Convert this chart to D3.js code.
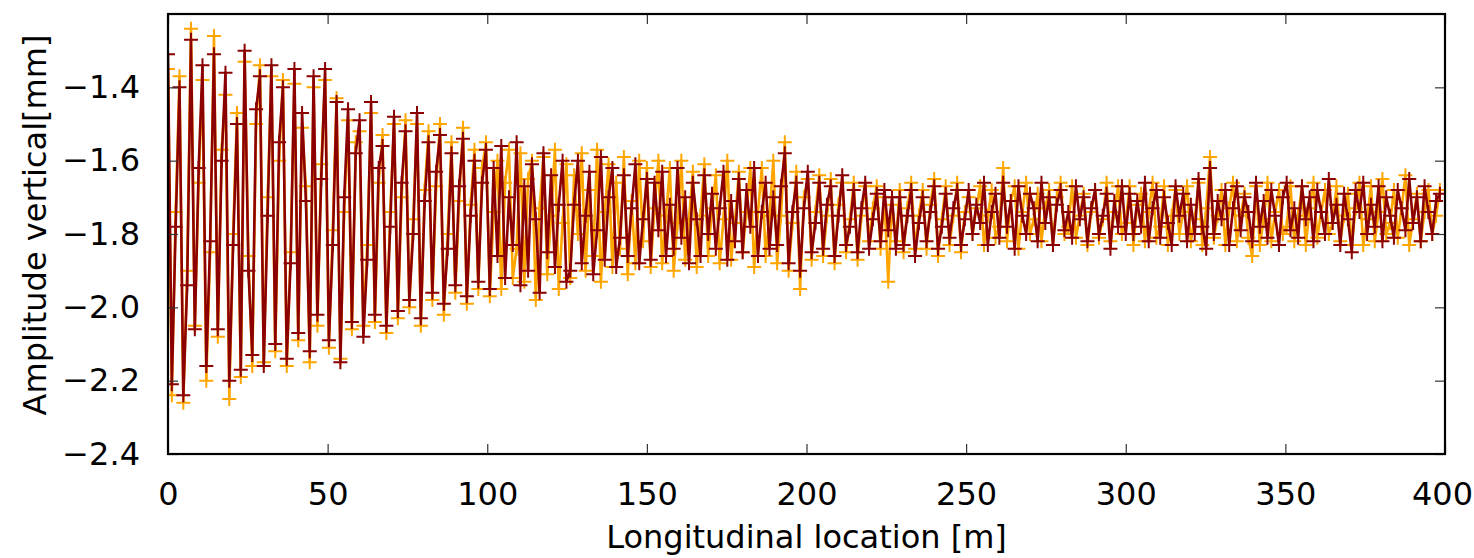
<!DOCTYPE html>
<html lang="en">

<head>
    <meta charset="utf-8">
    <title>Amplitude vertical</title>

    <style type="text/css">
        body {
            margin: 0;
            background-color: white;
        }
        text {
            font-family: "DejaVu Sans", sans-serif;
            fill: black;
        }
    </style>

    <script type="text/javascript" src="https://d3js.org/d3.v7.min.js"></script>

</head>


<body>
    <script type="text/javascript">
        var w = 1474
        var h = 558
        var margin = {left: 168, right: 29, top: 14, bottom: 104};

        // sampling step along the track [m]
        var step = 1.2;

        var xTicks = [0, 50, 100, 150, 200, 250, 300, 350, 400];
        var yTicks = [-2.4, -2.2, -2.0, -1.8, -1.6, -1.4];

        // orange series
        var ampOrange = [
            -1.35, -2.24, -1.74, -1.37, -2.26, -1.90, -1.24, -2.05, -1.66, -1.38, -2.20, -1.85, -1.26, -2.08, -1.57, -1.42, -2.25, -1.80, -1.47, -2.19, -1.33,
            -1.86, -2.16, -1.50, -1.34, -2.15, -1.70, -1.37, -2.12, -1.60, -1.38, -2.16, -1.85, -1.39, -2.09, -1.51, -1.67, -2.15, -1.40, -2.05, -1.61, -1.38,
            -2.11, -1.79, -1.43, -2.14, -1.74, -1.49, -2.06, -1.55, -1.52, -2.05, -1.83, -1.47, -2.04, -1.66, -1.53, -2.07, -1.74, -1.50, -2.03, -1.70, -1.49,
            -2.00, -1.76, -1.50, -2.05, -1.68, -1.52, -1.98, -1.67, -1.50, -2.02, -1.80, -1.55, -1.96, -1.71, -1.51, -1.99, -1.72, -1.57, -1.95, -1.62, -1.55,
            -1.97, -1.74, -1.60, -1.95, -1.66, -1.57, -1.92, -1.84, -1.58, -1.93, -1.65, -1.60, -1.98, -1.73, -1.59, -1.91, -1.75, -1.57, -1.95, -1.77, -1.61,
            -1.92, -1.64, -1.80, -1.58, -1.90, -1.68, -1.86, -1.57, -1.93, -1.74, -1.61, -1.89, -1.66, -1.84, -1.59, -1.91, -1.71, -1.88, -1.60, -1.82, -1.62,
            -1.89, -1.73, -1.60, -1.88, -1.75, -1.62, -1.90, -1.77, -1.60, -1.87, -1.76, -1.63, -1.89, -1.75, -1.61, -1.86, -1.73, -1.64, -1.88, -1.76, -1.60,
            -1.87, -1.77, -1.63, -1.85, -1.74, -1.62, -1.89, -1.74, -1.62, -1.86, -1.75, -1.60, -1.88, -1.75, -1.55, -1.90, -1.77, -1.63, -1.95, -1.70,
            -1.65, -1.87, -1.74, -1.64, -1.86, -1.75, -1.65, -1.88, -1.72, -1.66, -1.85, -1.76, -1.66, -1.87, -1.75, -1.67, -1.82, -1.73, -1.67, -1.84, -1.70,
            -1.93, -1.72, -1.82, -1.68, -1.85, -1.73, -1.66, -1.84, -1.75, -1.68, -1.84, -1.72, -1.65, -1.86, -1.76, -1.67, -1.83, -1.75, -1.66, -1.85, -1.74,
            -1.70, -1.80, -1.73, -1.67, -1.83, -1.75, -1.68, -1.81, -1.78, -1.62, -1.82, -1.71, -1.67, -1.84, -1.74, -1.66, -1.80, -1.76, -1.69, -1.82, -1.73,
            -1.68, -1.83, -1.70, -1.66, -1.80, -1.78, -1.67, -1.81, -1.75, -1.69, -1.83, -1.74, -1.68, -1.81, -1.76, -1.66, -1.82, -1.74, -1.67, -1.80, -1.77,
            -1.67, -1.83, -1.72, -1.69, -1.82, -1.74, -1.66, -1.81, -1.78, -1.67, -1.83, -1.75, -1.68, -1.80, -1.74, -1.67, -1.82, -1.76, -1.66, -1.83, -1.73,
            -1.59, -1.81, -1.75, -1.68, -1.83, -1.73, -1.66, -1.82, -1.75, -1.69, -1.81, -1.86, -1.67, -1.83, -1.76, -1.66, -1.82, -1.74, -1.68, -1.80, -1.78,
            -1.67, -1.82, -1.75, -1.67, -1.83, -1.73, -1.66, -1.81, -1.74, -1.68, -1.80, -1.77, -1.67, -1.82, -1.75, -1.69, -1.83, -1.73, -1.66, -1.83, -1.76,
            -1.67, -1.82, -1.74, -1.65, -1.80, -1.77, -1.68, -1.81, -1.73, -1.64, -1.83, -1.76, -1.69, -1.82, -1.74, -1.68, -1.80, -1.75, -1.68
        ];

        // dark red series
        var ampRed = [
            -1.31, -2.21, -1.78, -1.40, -2.24, -1.94, -1.27, -2.06, -1.62, -1.34, -2.16, -1.82, -1.31, -2.06, -1.60, -1.36, -2.20, -1.83, -1.50, -2.17, -1.30,
            -1.90, -2.13, -1.46, -1.37, -2.16, -1.75, -1.34, -2.10, -1.55, -1.40, -2.14, -1.88, -1.35, -2.07, -1.47, -1.71, -2.12, -1.37, -2.02, -1.65, -1.35,
            -2.09, -1.83, -1.44, -2.15, -1.70, -1.46, -2.04, -1.58, -1.49, -2.08, -1.87, -1.44, -2.02, -1.62, -1.56, -2.05, -1.78, -1.48, -2.01, -1.66, -1.52,
            -1.98, -1.80, -1.47, -2.03, -1.71, -1.55, -1.96, -1.63, -1.53, -1.99, -1.84, -1.58, -1.94, -1.67, -1.54, -1.97, -1.75, -1.60, -1.93, -1.66, -1.57,
            -1.95, -1.62, -1.86, -1.56, -1.92, -1.70, -1.83, -1.55, -1.94, -1.67, -1.90, -1.61, -1.76, -1.96, -1.58, -1.85, -1.64, -1.89, -1.72, -1.60, -1.93,
            -1.90, -1.72, -1.60, -1.88, -1.75, -1.63, -1.91, -1.79, -1.59, -1.87, -1.70, -1.62, -1.89, -1.81, -1.64, -1.86, -1.73, -1.61, -1.88, -1.76, -1.65,
            -1.87, -1.66, -1.79, -1.63, -1.86, -1.72, -1.84, -1.62, -1.81, -1.70, -1.88, -1.66, -1.76, -1.86, -1.64, -1.80, -1.69, -1.84, -1.73, -1.63, -1.87,
            -1.71, -1.82, -1.65, -1.85, -1.68, -1.78, -1.62, -1.86, -1.74, -1.66, -1.84, -1.70, -1.83, -1.67, -1.58, -1.88, -1.74, -1.66, -1.90, -1.73,
            -1.63, -1.85, -1.77, -1.66, -1.84, -1.72, -1.67, -1.86, -1.75, -1.64, -1.83, -1.78, -1.68, -1.85, -1.73, -1.66, -1.84, -1.76, -1.69, -1.82, -1.68,
            -1.79, -1.70, -1.84, -1.70, -1.83, -1.75, -1.68, -1.86, -1.77, -1.70, -1.82, -1.74, -1.67, -1.84, -1.78, -1.69, -1.81, -1.73, -1.68, -1.83, -1.76,
            -1.68, -1.80, -1.72, -1.77, -1.66, -1.83, -1.74, -1.69, -1.81, -1.66, -1.78, -1.71, -1.84, -1.67, -1.75, -1.80, -1.69, -1.73, -1.82, -1.66, -1.77,
            -1.70, -1.83, -1.72, -1.68, -1.79, -1.74, -1.81, -1.67, -1.76, -1.70, -1.82, -1.73, -1.68, -1.80, -1.75, -1.69, -1.84, -1.71, -1.78, -1.67, -1.80,
            -1.69, -1.80, -1.71, -1.78, -1.66, -1.82, -1.73, -1.68, -1.81, -1.70, -1.77, -1.83, -1.67, -1.75, -1.69, -1.82, -1.72, -1.80, -1.65, -1.78, -1.84,
            -1.62, -1.80, -1.71, -1.76, -1.68, -1.83, -1.73, -1.67, -1.79, -1.70, -1.74, -1.82, -1.66, -1.78, -1.71, -1.81, -1.68, -1.75, -1.83, -1.70, -1.66,
            -1.79, -1.73, -1.81, -1.67, -1.76, -1.70, -1.82, -1.68, -1.74, -1.80, -1.65, -1.77, -1.72, -1.83, -1.69, -1.76, -1.85, -1.68, -1.74, -1.66, -1.80,
            -1.72, -1.78, -1.67, -1.82, -1.70, -1.75, -1.81, -1.68, -1.73, -1.79, -1.65, -1.77, -1.70, -1.82, -1.67, -1.74, -1.80, -1.71, -1.69
        ];

        var svg = d3.select("body")
                    .append("svg")
                    .attr("width", w)
                    .attr("height", h);

        var x = d3.scaleLinear()
                  .domain([0, 400])
                  .range([margin.left, w - margin.right]);
        var y = d3.scaleLinear()
                  .domain([-2.4, -1.2])
                  .range([h - margin.bottom, margin.top]);

        svg.append("clipPath")
           .attr("id", "plotclip")
           .append("rect")
           .attr("x", margin.left)
           .attr("y", margin.top)
           .attr("width", w - margin.left - margin.right)
           .attr("height", h - margin.top - margin.bottom);

        var plot = svg.append("g").attr("clip-path", "url(#plotclip)");

        var line = d3.line()
                     .x(function (d, i) { return x(i * step); })
                     .y(function (d) { return y(d); });

        var drawSeries = function (data, color) {
            plot.append("path")
                .datum(data)
                .attr("d", line)
                .attr("fill", "none")
                .attr("stroke", color)
                .attr("stroke-width", 2.6)
                .attr("stroke-linejoin", "round");
            plot.append("g")
                .selectAll("path")
                .data(data)
                .enter()
                .append("path")
                .attr("d", "M-7,0H7M0,-7V7")
                .attr("transform", function (d, i) {
                    return "translate(" + x(i * step) + "," + y(d) + ")";
                })
                .attr("stroke", color)
                .attr("stroke-width", 2)
                .attr("fill", "none");
        };

        drawSeries(ampOrange, "#ffa500");
        drawSeries(ampRed, "#8b0000");

        // inward ticks on all four sides
        var tickLen = 10;
        var xAxisB = d3.axisBottom(x).tickValues(xTicks).tickSizeInner(-tickLen).tickSizeOuter(0).tickPadding(28);
        var xAxisT = d3.axisTop(x).tickValues(xTicks).tickSizeInner(-tickLen).tickSizeOuter(0).tickFormat("");
        var fmt = function (d) { return d3.format(".1f")(d).replace("-", "\u2212"); };
        var yAxisL = d3.axisLeft(y).tickValues(yTicks).tickSizeInner(-tickLen).tickSizeOuter(0).tickPadding(28).tickFormat(fmt);
        var yAxisR = d3.axisRight(y).tickValues(yTicks).tickSizeInner(-tickLen).tickSizeOuter(0).tickFormat("");

        var gb = svg.append("g").attr("transform", "translate(0," + (h - margin.bottom) + ")").call(xAxisB);
        var gt = svg.append("g").attr("transform", "translate(0," + margin.top + ")").call(xAxisT);
        var gl = svg.append("g").attr("transform", "translate(" + margin.left + ",0)").call(yAxisL);
        var gr = svg.append("g").attr("transform", "translate(" + (w - margin.right) + ",0)").call(yAxisR);

        [gb, gt, gl, gr].forEach(function (g) {
            g.select(".domain").remove();
            g.selectAll(".tick line").attr("stroke", "#333").attr("stroke-width", 1.2);
            g.selectAll("text")
             .style("font-family", "'DejaVu Sans', sans-serif")
             .style("font-size", "32px")
             .attr("fill", "black");
        });

        // keep the last label inside the window
        gb.selectAll(".tick text")
          .filter(function (d) { return d === 400; })
          .attr("dx", "-3px");

        // frame
        svg.append("rect")
           .attr("x", margin.left)
           .attr("y", margin.top)
           .attr("width", w - margin.left - margin.right)
           .attr("height", h - margin.top - margin.bottom)
           .attr("fill", "none")
           .attr("stroke", "black")
           .attr("stroke-width", 2.2);

        svg.append("text")
           .attr("x", (margin.left + w - margin.right) / 2)
           .attr("y", 548)
           .attr("text-anchor", "middle")
           .style("font-size", "32px")
           .text("Longitudinal location [m]");

        svg.append("text")
           .attr("transform", "translate(46," + 225 + ") rotate(-90)")
           .attr("text-anchor", "middle")
           .style("font-size", "32px")
           .text("Amplitude vertical[mm]");
    </script>
</body>

</html>
